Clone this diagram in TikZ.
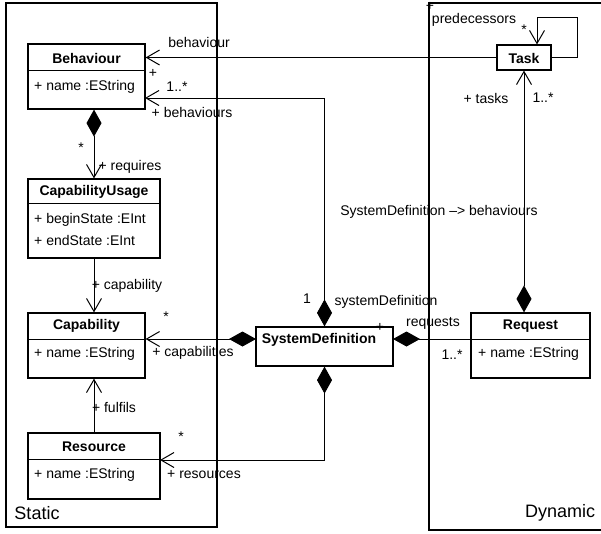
\documentclass[tikz,border=0pt]{standalone}
\usepackage{fontspec}
\setmainfont{Liberation Sans}
\usetikzlibrary{arrows.meta}

\begin{document}
\begin{tikzpicture}[x=1pt, y=-1pt, font=\fontsize{14}{16}\selectfont]
 \tikzstyle{cls}=[rectangle, draw, line width=1.2pt, inner sep=0pt]
 \tikzstyle{title}=[font=\fontsize{14}{16}\selectfont\bfseries, inner sep=0pt]
 \tikzstyle{attr}=[anchor=west, inner sep=0pt]
 \tikzstyle{pkg}=[font=\fontsize{18}{20}\selectfont, inner sep=0pt]
 \tikzstyle{line} = [draw, line width=1pt, -{Straight Barb[length=13pt, width=15pt]}]
 \tikzstyle{comp} = [draw, line width=1pt, {Diamond[length=27pt, width=15pt]}-{Straight Barb[length=13pt, width=15pt]}]
 \tikzstyle{agg} = [draw, line width=1pt, {Diamond[length=27pt, width=15pt]}-]
 \useasboundingbox (0,0) rectangle (601,533);

 \draw[line width=1.2pt] (6,3) rectangle (217,527);
 \draw[line width=1.2pt] (601,3) -- (429,3) -- (429,530) -- (601,530);
 \draw (37,513) node[pkg] {Static};
 \draw (560,513) node[pkg] {Dynamic};

 \draw (86.5,76.5) node[cls, minimum width=117pt, minimum height=65pt] (beh) {};
 \draw (86.5,58) node[title] {Behaviour};
 \draw (beh.west |- 0,70) -- (beh.east |- 0,70);
 \draw (34,87) node[attr] {+ name :EString};

 \draw (94,218.5) node[cls, minimum width=132pt, minimum height=79pt] (cu) {};
 \draw (94,192) node[title] {CapabilityUsage};
 \draw (cu.west |- 0,203) -- (cu.east |- 0,203);
 \draw (34,220) node[attr] {+ beginState :EInt};
 \draw (34,240) node[attr] {+ endState :EInt};

 \draw (86.5,345.5) node[cls, minimum width=117pt, minimum height=65pt] (cap) {};
 \draw (86.5,326) node[title] {Capability};
 \draw (cap.west |- 0,339) -- (cap.east |- 0,339);
 \draw (34,354) node[attr] {+ name :EString};

 \draw (94,466) node[cls, minimum width=132pt, minimum height=66pt] (res) {};
 \draw (94,447) node[title] {Resource};
 \draw (res.west |- 0,459) -- (res.east |- 0,459);
 \draw (34,475) node[attr] {+ name :EString};

 \draw (324.5,346.5) node[cls, minimum width=137pt, minimum height=39pt] (sd) {};
 \draw (319,340) node[title] {SystemDefinition};

 \draw (530.5,345.5) node[cls, minimum width=119pt, minimum height=65pt] (req) {};
 \draw (530.5,326) node[title] {Request};
 \draw (req.west |- 0,339) -- (req.east |- 0,339);
 \draw (478,354) node[attr] {+ name :EString};

 \draw (524,57.5) node[cls, minimum width=54pt, minimum height=25pt] (task) {};
 \draw (524,58) node[title] {Task};

 \coordinate (behB) at (145,98);
 \coordinate (sdW) at (256,339);
 \coordinate (sdE) at (393,339);
 \coordinate (resE) at (160,460);

 \path [line] (task.west) -- (task.west -| beh.east);
 \path [comp] (sd.north) |- (behB);
 \path [comp] (beh.south -| cu.north) -- (cu.north);
 \path [line] (cu.south) -- (cu.south |- cap.north);
 \path [line] (res.north) -- (res.north |- cap.south);
 \path [comp] (sdW) -- (sdW -| cap.east);
 \path [comp] (sd.south) |- (resE);
 \path [agg] (sdE) -- (sdE -| req.west);
 \path [comp] (task.south |- req.north) -- (task.south);
 \path [line] (task.east) -- (577,57.5) -- (577,17) -| ([xshift=13pt]task.north);

 \draw (199,42) node{behaviour};
 \draw (153,73) node{+};
 \draw (177,87) node{1..*};
 \draw (192,112) node{+ behaviours};
 \draw (81,148) node{*};
 \draw (130,167) node{+ requires};
 \draw (127,286) node{+ capability};
 \draw (166,317) node{*};
 \draw (193,353) node{+ capabilities};
 \draw (114,407) node{+ fulfils};
 \draw (181,437) node{*};
 \draw (204,475) node{+ resources};
 \draw (307,299) node{1};
 \draw (386,302) node{systemDefinition};
 \draw (380,327) node{+};
 \draw (433,323) node{requests};
 \draw (452,355) node{1..*};
 \draw (486,98) node{+ tasks};
 \draw (543,98) node{1..*};
 \draw (524,30) node{*};
 \draw (474,20) node{predecessors};
 \draw (430,6) node{+};
 \draw (439,212) node{SystemDefinition --> behaviours};

\end{tikzpicture}
\end{document}
